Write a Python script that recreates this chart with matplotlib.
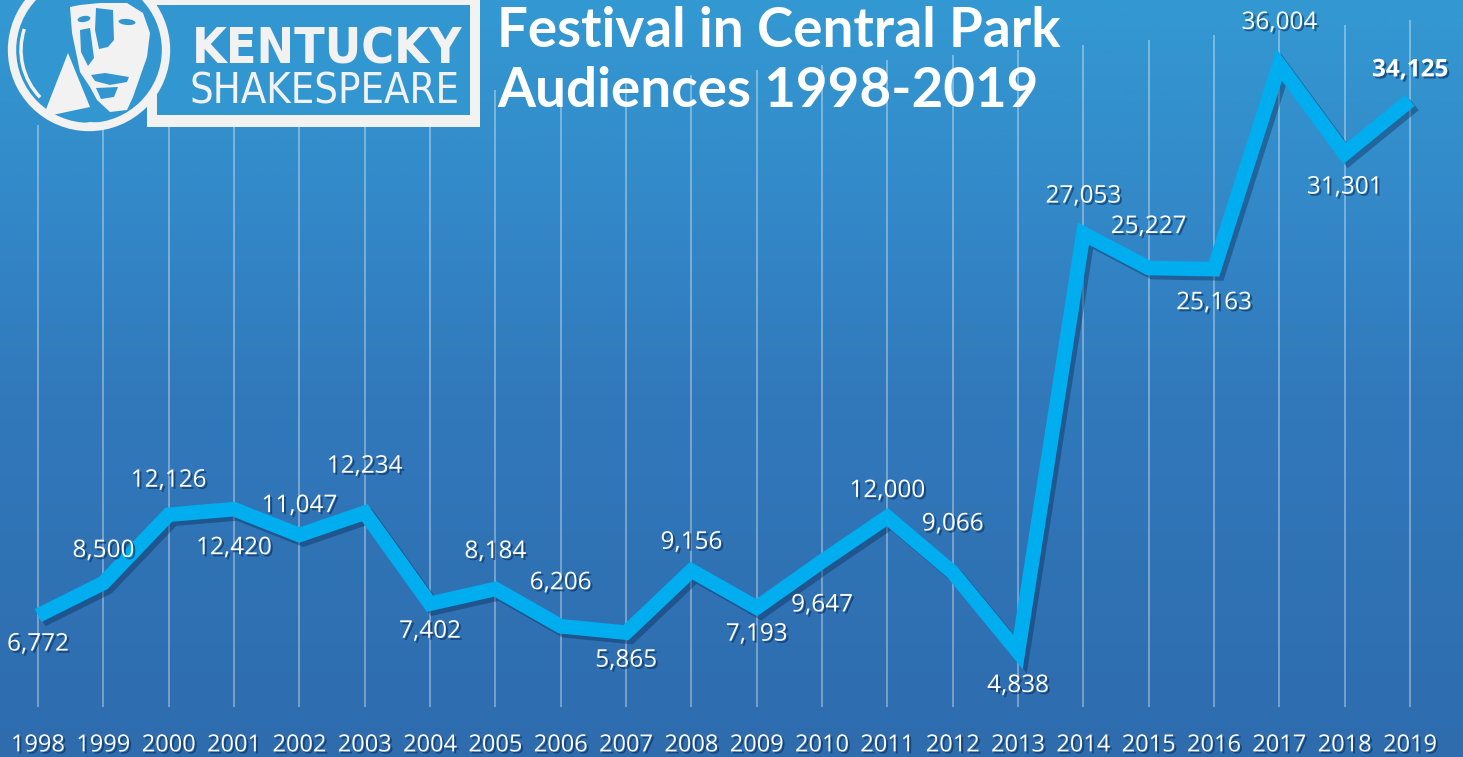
import numpy as np
import matplotlib
matplotlib.use('Agg')
import matplotlib.pyplot as plt
import matplotlib.patheffects as pe
from matplotlib import font_manager as fm
from matplotlib.colors import LinearSegmentedColormap
from matplotlib.transforms import blended_transform_factory
from matplotlib.patches import Circle, Rectangle, Polygon, Arc, Ellipse

# ---------------- data ----------------
years = list(range(1998, 2020))
audiences = [6772, 8500, 12126, 12420, 11047, 12234, 7402, 8184, 6206, 5865,
             9156, 7193, 9647, 12000, 9066, 4838, 27053, 25227, 25163, 36004,
             31301, 34125]
year_labels = [str(y) for y in years]
value_labels = [f"{v:,}" for v in audiences]
title_lines = ["Festival in Central Park", "Audiences 1998-2019"]
logo_lines = ["KENTUCKY", "SHAKESPEARE"]

# label offsets in pixels (screen-down positive)
label_dy = [29, -32, -34, 39, -29, -46, 28, -37, -43, 28, -28, 27, 44, -26,
            -48, 34, -37, -41, 34, -42, 34, -30]

W, H = 1463, 757
fig = plt.figure(figsize=(W / 100, H / 100), dpi=100)
renderer = fig.canvas.get_renderer()

# background gradient
bg = fig.add_axes([0, 0, 1, 1], zorder=-10)
cmap = LinearSegmentedColormap.from_list(
    'bg', [(0.0, '#3399d2'), (0.28, '#3388c8'), (0.52, '#3179bb'), (1.0, '#2e6cae')])
grad = np.linspace(0, 1, 256).reshape(-1, 1)
bg.imshow(grad, aspect='auto', cmap=cmap, extent=[0, 1, 1, 0])
bg.set_axis_off()

shadow = '#0a2a55'

# main axes: bottom at pixel 707
ax_bottom = 50 / H
ax = fig.add_axes([0, ax_bottom, 1, 1 - ax_bottom], zorder=1)
ax.patch.set_alpha(0)
scale = 0.018835  # px per audience unit
ax.set_ylim(4838 - 55 / scale, 4838 + 652 / scale)
ax.set_xlim(1998 - 38 / 65.33, 2019 + 53 / 65.33)
for s in ax.spines.values():
    s.set_visible(False)
ax.set_yticks([])
ax.set_xticks(years)
ax.set_xticklabels(year_labels, fontsize=17, color='white', family='Open Sans')
ax.tick_params(axis='x', length=0, pad=19)
for t in ax.get_xticklabels():
    t.set_path_effects([pe.withSimplePatchShadow(offset=(1.5, -1.5), shadow_rgbFace=shadow, alpha=0.6)])

# vertical grid lines with slanted tops
trans = blended_transform_factory(ax.transData, ax.transAxes)
axh = H - 50
for i, y in enumerate(years):
    top_px = 125 - 5 * i
    top_frac = (707 - top_px) / axh
    ax.plot([y, y], [0, top_frac], transform=trans, color='white', alpha=0.35,
            lw=1.4, zorder=1, solid_capstyle='butt')

# main line
ax.plot(years, audiences, color='#00adee', lw=10.5, zorder=3,
        solid_joinstyle='miter', solid_capstyle='butt',
        path_effects=[pe.SimpleLineShadow(offset=(3, -3), shadow_color=shadow, alpha=0.4),
                      pe.Normal()])

# value labels
for i, (x, v, lab) in enumerate(zip(years, audiences, value_labels)):
    bold = (i == len(years) - 1)
    ax.annotate(lab, (x, v), xytext=(0, -label_dy[i]), textcoords='offset pixels',
                ha='center', va='center', fontsize=17.5, color='white',
                family='Open Sans', fontweight='bold' if bold else 'normal', zorder=5,
                path_effects=[pe.withSimplePatchShadow(offset=(1.5, -1.5), shadow_rgbFace=shadow, alpha=0.6)])

# overlay in pixel coordinates for logo and title
ov = fig.add_axes([0, 0, 1, 1], zorder=5)
ov.set_xlim(0, W)
ov.set_ylim(H, 0)
ov.set_axis_off()
ov.patch.set_alpha(0)


def fit_width(txt, target_px):
    ext = txt.get_window_extent(renderer=renderer)
    txt.set_fontsize(txt.get_fontsize() * target_px / ext.width)


white = '#f2f2f2'
blue = '#3297d1'
ov.add_patch(Rectangle((147, -2), 333, 129, fc=white, ec='none'))
ov.add_patch(Rectangle((157, 5), 313, 110, fc=blue, ec='none'))
ov.add_patch(Circle((89, 50), 77, fc=blue, ec=white, lw=6))
ov.add_patch(Arc((89, 50), 136, 136, theta1=136, theta2=198, ec=white, lw=2.5))
ov.add_patch(Polygon([(43, 117), (68, 53), (90, 107)], closed=True, fc=white, ec='none'))
# face silhouette
face = [(70, 7), (72, 33), (77, 57), (80, 72), (90, 87), (97, 100), (110, 112),
        (127, 110), (133, 97), (140, 77), (147, 57), (150, 33), (143, 13),
        (127, 3), (100, 3), (80, 5)]
ov.add_patch(Polygon(face, closed=True, fc=white, ec='none'))
# facial features in blue
ov.add_patch(Ellipse((84, 19), 13, 6, angle=-10, fc=blue, ec='none'))
ov.add_patch(Ellipse((127, 22), 17, 6, angle=5, fc=blue, ec='none'))
ov.add_patch(Polygon([(96, 8), (113, 10), (114, 40), (108, 47), (99, 49), (95, 30)],
                     closed=True, fc=blue, ec='none'))
ov.add_patch(Polygon([(80, 30), (90, 28), (94, 58), (88, 66), (81, 52)],
                     closed=True, fc=blue, ec='none'))
ov.add_patch(Polygon([(91, 75), (105, 73), (129, 77), (127, 82), (110, 85), (95, 81)],
                     closed=True, fc=blue, ec='none'))
ov.add_patch(Polygon([(96, 88), (118, 87), (114, 97), (101, 99)],
                     closed=True, fc=blue, ec='none'))
ov.add_patch(Polygon([(67, 126), (90, 122), (117, 124), (92, 129)],
                     closed=True, fc=white, ec='none'))

# choose a condensed face if available
cond_bold = fm.FontProperties(family='DejaVu Sans', stretch='condensed', weight='bold')
cond_reg = fm.FontProperties(family='DejaVu Sans', stretch='condensed')
if 'Condensed' in fm.findfont(cond_bold):
    fp1, fp2 = cond_bold, cond_reg
else:
    fp1 = fm.FontProperties(family='Roboto', weight='bold')
    fp2 = fm.FontProperties(family='Roboto')

t1 = ov.text(192, 63, logo_lines[0], ha='left', va='baseline', color=white,
             fontproperties=fp1, fontsize=50)
t2 = ov.text(190, 103, logo_lines[1], ha='left', va='baseline', color=white,
             fontproperties=fp2, fontsize=30)
fit_width(t1, 271)
fit_width(t2, 270)

tt1 = ov.text(497, 47, title_lines[0], ha='left', va='baseline', color='white',
              fontsize=38, fontweight='bold', family='Lato')
tt2 = ov.text(497, 107, title_lines[1], ha='left', va='baseline', color='white',
              fontsize=38, fontweight='bold', family='Lato')
fit_width(tt1, 563)
tt2.set_fontsize(tt1.get_fontsize())

fig.savefig('out.png', dpi=100)
